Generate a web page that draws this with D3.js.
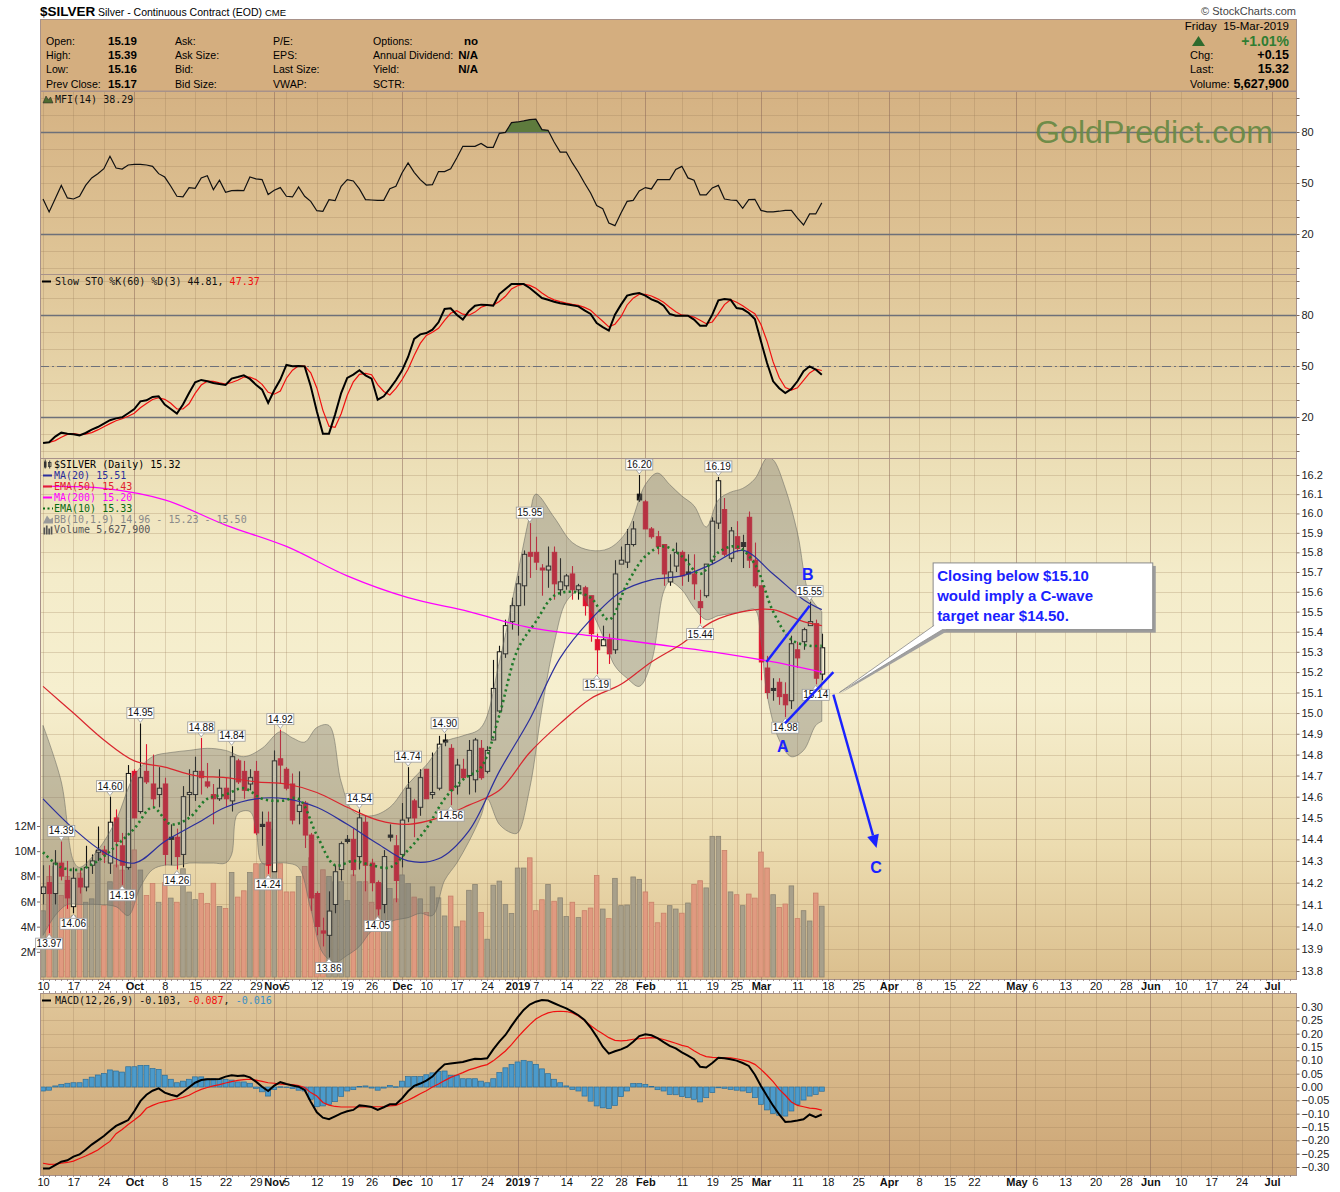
<!DOCTYPE html>
<html>
<head>
<meta charset="utf-8">
<title>$SILVER daily</title>
<script src="https://cdn.jsdelivr.net/npm/d3@7"></script>
<style>
  body { margin: 0; background: #fff; }
  text { font-family: "Liberation Sans", Arial, sans-serif; }
  .mono { font-family: "DejaVu Sans Mono", monospace; font-size: 10px; }
</style>
</head>
<body>
<svg id="chart" width="1340" height="1192"></svg>
<script>
// ---------- data ----------
const firstDay = "2018-09-10";
const holidays = ["2018-11-22","2018-12-05","2018-12-25","2019-01-01","2019-01-21",
                  "2019-02-18","2019-04-19","2019-05-27","2019-07-04"];

const opens = [14.15,14.20,14.15,14.29,14.21,14.09,14.22,14.18,14.28,14.34,
14.35,14.29,14.50,14.37,14.27,14.72,14.53,14.72,14.66,14.61,
14.66,14.41,14.41,14.33,14.61,14.61,14.72,14.67,14.61,14.59,
14.64,14.58,14.77,14.72,14.66,14.72,14.47,14.48,14.25,14.78,
14.73,14.66,14.53,14.57,14.42,14.15,13.98,13.96,14.10,14.26,
14.40,14.40,14.32,14.48,14.29,14.20,14.10,14.42,14.37,14.33,
14.50,14.58,14.55,14.73,14.61,14.64,14.87,14.83,14.65,14.73,
14.70,14.68,14.83,14.72,14.87,15.01,15.29,15.45,15.53,15.63,
15.80,15.80,15.72,15.71,15.80,15.61,15.63,15.69,15.61,15.62,
15.58,15.36,15.33,15.36,15.31,15.74,15.75,15.84,16.10,16.06,
15.92,15.88,15.84,15.65,15.73,15.80,15.70,15.69,15.55,15.58,
15.76,15.95,16.02,15.77,15.88,15.85,15.98,15.76,15.63,15.22,
15.12,15.15,15.09,15.06,15.31,15.35,15.43,15.44,15.19];
const highs = [14.28,14.28,14.35,14.39,14.30,14.27,14.26,14.37,14.33,14.46,
14.37,14.60,14.54,14.43,14.75,14.73,14.95,14.85,14.80,14.74,
14.69,14.47,14.45,14.65,14.73,14.79,14.88,14.76,14.66,14.73,
14.69,14.84,14.78,14.77,14.73,14.77,14.53,14.53,14.82,14.92,
14.74,14.71,14.72,14.58,14.43,14.16,14.04,14.16,14.28,14.39,
14.42,14.45,14.54,14.51,14.31,14.21,14.35,14.47,14.42,14.57,
14.74,14.59,14.73,14.73,14.81,14.89,14.90,14.85,14.78,14.78,
14.87,14.88,14.87,14.84,15.26,15.33,15.46,15.57,15.68,15.81,
15.95,15.88,15.74,15.83,15.83,15.77,15.69,15.73,15.64,15.63,
15.58,15.39,15.43,15.39,15.76,15.83,15.92,15.96,16.20,16.07,
15.93,15.91,15.84,15.79,15.85,15.81,15.79,15.79,15.61,15.74,
15.98,16.19,16.08,15.93,15.96,15.89,16.01,15.85,15.63,15.28,
15.17,15.17,15.15,15.38,15.35,15.42,15.55,15.46,15.39];
const lows = [14.10,13.97,14.10,14.21,14.08,14.06,14.15,14.16,14.24,14.30,
14.29,14.24,14.27,14.19,14.26,14.50,14.52,14.66,14.55,14.55,
14.28,14.28,14.26,14.27,14.51,14.58,14.61,14.64,14.47,14.58,
14.55,14.53,14.66,14.59,14.63,14.42,14.37,14.24,14.25,14.66,
14.63,14.47,14.47,14.36,14.07,13.96,13.91,13.86,14.06,14.21,
14.38,14.23,14.26,14.16,14.16,14.05,14.06,14.39,14.11,14.27,
14.48,14.41,14.51,14.59,14.59,14.63,14.84,14.56,14.61,14.68,
14.61,14.62,14.68,14.71,14.87,15.00,15.27,15.41,15.38,15.53,
15.67,15.71,15.58,15.62,15.56,15.58,15.61,15.56,15.56,15.48,
15.35,15.19,15.33,15.24,15.29,15.74,15.72,15.83,16.06,15.92,
15.87,15.79,15.63,15.63,15.70,15.63,15.65,15.56,15.44,15.57,
15.74,15.92,15.78,15.75,15.80,15.72,15.72,15.62,15.16,15.07,
15.06,15.04,14.98,15.02,15.22,15.31,15.43,15.14,15.16];
const closes = [14.18,14.15,14.29,14.23,14.13,14.22,14.18,14.27,14.30,14.35,
14.33,14.48,14.39,14.28,14.71,14.50,14.69,14.67,14.59,14.64,
14.33,14.40,14.32,14.60,14.62,14.72,14.69,14.65,14.59,14.64,
14.59,14.79,14.67,14.63,14.69,14.43,14.46,14.28,14.77,14.75,
14.64,14.49,14.56,14.42,14.13,14.00,13.97,14.07,14.25,14.38,
14.39,14.26,14.50,14.28,14.20,14.08,14.32,14.41,14.21,14.49,
14.64,14.50,14.69,14.59,14.62,14.85,14.86,14.63,14.75,14.69,
14.82,14.87,14.69,14.82,15.12,15.30,15.43,15.53,15.64,15.79,
15.78,15.75,15.71,15.73,15.64,15.65,15.68,15.61,15.63,15.53,
15.39,15.31,15.36,15.29,15.69,15.76,15.84,15.92,16.07,15.92,
15.88,15.83,15.69,15.70,15.80,15.68,15.69,15.64,15.52,15.74,
15.96,16.17,15.79,15.91,15.82,15.83,15.76,15.63,15.25,15.10,
15.11,15.08,15.04,15.34,15.27,15.41,15.45,15.17,15.32];
// volume, millions of contracts
const volumes = [5.26,7.98,8.79,6.48,7.98,4.85,8.25,5.94,6.21,10.0,
5.67,7.57,8.9,8.5,11.4,10.1,8.5,6.48,7.43,5.94,
7.5,6.27,5.94,8.6,6.75,6.15,6.65,5.85,7.45,5.6,
5.45,8.30,6.35,6.85,8.30,9.0,9.0,9.05,11.75,9.0,
6.76,6.76,7.98,8.79,9.47,6.48,8.52,7.98,7.57,7.57,
6.08,8.11,7.57,7.57,5.94,7.43,7.43,7.03,6.21,8.11,
7.43,6.35,6.21,5.13,7.16,6.29,4.85,6.43,3.98,4.45,
6.89,7.35,5.13,3.0,7.3,7.62,5.75,5.05,8.66,8.66,
9.47,5.27,6.14,7.35,6.02,6.29,4.8,5.94,4.72,5.27,
5.48,8.06,5.40,4.64,7.84,5.67,5.72,7.95,7.76,6.76,
5.94,4.31,5.07,5.67,5.40,5.07,5.88,7.35,7.65,7.08,
11.18,11.18,10.05,6.76,6.54,5.67,6.59,6.27,9.93,8.66,
6.54,5.53,5.80,7.24,4.64,5.27,4.45,6.67,5.628];

// overlays, read at the bar index listed beside them
const ma200Idx = [0,10,20,30,40,50,60,70,80,90,100,110,120,128];
const ma200 = [16.14,16.13,16.07,15.94,15.83,15.68,15.57,15.50,15.42,15.38,15.34,15.30,15.25,15.20];
const ma5Idx = [0,5,10,15,20,25,30,35,40,45,50,55,60,65,70,75,80,85,90,95,100,105,110,115,120,125,128];
const ema50 = [15.13,15.00,14.87,14.77,14.74,14.70,14.69,14.67,14.66,14.62,14.55,14.49,14.47,14.50,
  14.56,14.63,14.81,14.95,15.07,15.14,15.25,15.34,15.45,15.50,15.51,15.45,15.43];
const ma20 = [14.59,14.45,14.34,14.29,14.39,14.47,14.55,14.59,14.59,14.55,14.47,14.38,14.30,14.31,
  14.44,14.72,14.97,15.27,15.46,15.60,15.66,15.68,15.74,15.81,15.69,15.56,15.51];
const ema10Idx = [0,3,6,9,12,15,18,21,24,27,30,33,36,39,42,45,48,51,54,57,60,63,66,69,72,75,
  78,81,84,87,90,93,96,99,102,105,108,111,114,117,120,123,126,128];
const ema10 = [14.34,14.27,14.26,14.30,14.37,14.45,14.55,14.47,14.50,14.59,14.61,14.64,14.59,14.58,
  14.59,14.42,14.28,14.30,14.28,14.27,14.35,14.45,14.59,14.68,14.74,14.99,15.31,15.45,15.58,15.60,
  15.57,15.46,15.64,15.78,15.83,15.78,15.69,15.80,15.83,15.74,15.50,15.36,15.33,15.33];
const bbUpperIdx = [0,3,5,6,9,12,15,18,21,24,27,30,33,36,39,41,43,45,47,49,51,54,57,60,63,66,69,
  72,75,78,80,81,84,87,90,93,96,99,101,103,105,107,109,111,113,115,117,119,120,122,124,126,128];
const bbUpper = [14.94,14.67,14.30,14.27,14.35,14.49,14.70,14.79,14.81,14.82,14.83,14.82,14.79,14.83,
  14.91,14.88,14.86,14.93,14.94,14.67,14.53,14.51,14.55,14.66,14.75,14.86,14.89,14.93,15.25,15.69,
  15.99,16.10,15.98,15.85,15.81,15.82,15.91,16.15,16.21,16.15,16.09,16.04,15.93,16.07,16.11,16.13,
  16.18,16.29,16.28,16.13,15.90,15.58,15.50];
const bbLowerIdx = [0,2,4,6,9,12,14,16,18,20,22,24,26,28,30,31,32,34,35,36,38,40,42,44,46,48,50,52,54,56,
  58,60,62,64,66,68,70,72,73,75,77,78,80,82,84,86,88,90,92,94,96,98,100,102,103,105,107,109,111,
  113,115,117,118,119,121,123,125,127,128];
const bbLower = [13.96,14.05,14.10,14.10,14.10,14.09,14.05,14.18,14.26,14.28,14.28,14.29,14.29,14.29,
  14.29,14.33,14.52,14.53,14.45,14.29,14.29,14.29,14.27,14.08,13.88,13.84,13.87,13.91,13.98,14.01,
  14.03,14.04,14.06,14.05,14.21,14.29,14.39,14.51,14.59,14.47,14.43,14.43,14.64,15.02,15.34,15.55,
  15.60,15.51,15.38,15.23,15.17,15.13,15.25,15.60,15.65,15.61,15.52,15.46,15.48,15.49,15.50,15.51,
  15.36,15.09,14.87,14.79,14.82,14.94,14.96];

const mfi = [40.6,33.0,40.8,48.6,41.2,40.6,42.2,48.6,53.0,55.5,
58.4,65.7,58.8,58.2,60.6,61.0,61.0,60.6,59.8,55.5,
53.5,48.1,42.2,41.8,47.3,46.9,53.0,54.3,46.1,51.6,
44.5,45.5,45.7,45.5,53.5,52.4,52.0,43.2,45.7,47.3,
42.2,41.8,47.7,42.2,39.2,33.7,33.3,40.2,39.6,48.1,
52.0,51.2,46.5,40.2,40.0,39.8,39.8,46.7,48.1,55.9,
61.8,56.3,52.0,48.8,49.0,56.7,56.7,58.4,64.7,71.6,
71.6,71.6,73.3,71.0,71.0,79.2,79.8,85.5,85.9,86.5,
87.3,87.6,81.4,81.0,74.1,68.2,68.2,61.8,56.3,50.0,
44.1,36.7,34.9,26.5,24.9,32.4,39.2,39.8,45.3,47.3,
46.5,52.0,52.0,52.0,58.0,59.8,53.0,51.6,43.0,43.0,
47.1,48.6,40.6,40.0,39.8,35.1,40.2,40.4,33.9,33.0,
33.0,33.4,33.9,33.9,29.4,25.3,31.8,31.8,38.29];
const stoK = [4.7,5.1,8.5,10.8,10.2,9.8,9.2,10.6,12.6,14.1,
16.1,18.1,19.2,19.8,22.2,24.7,29.2,29.8,31.8,32.2,
27.3,24.7,22.0,27.3,34.1,40.4,41.8,41.0,40.0,39.4,
38.8,42.6,43.5,44.5,42.4,39.0,36.1,28.3,35.7,42.0,
50.6,49.8,50.0,49.8,38.1,23.4,10.2,10.2,21.4,34.1,
43.0,44.9,47.5,44.5,42.6,30.2,32.2,36.7,41.6,47.3,
55.3,65.9,68.6,69.4,71.4,75.7,83.5,83.9,80.2,77.3,
82.2,85.5,86.1,85.9,85.5,92.3,95.3,98.2,98.2,98.2,
95.9,92.9,90.0,89.0,87.8,86.9,86.3,85.7,85.1,82.7,
80.6,75.3,72.9,70.8,80.2,86.1,91.4,92.3,92.9,91.4,
89.2,87.8,85.5,80.6,79.6,79.6,79.6,77.3,73.7,73.7,
80.2,88.6,89.4,89.0,84.1,83.5,81.2,77.6,64.5,51.8,
41.0,36.9,34.1,36.5,41.0,46.9,49.8,47.9,44.81];
const stoD = [5.0,5.0,6.1,8.1,9.8,10.3,9.7,9.9,10.8,12.4,
14.3,16.1,17.8,19.0,20.4,22.2,25.4,27.9,30.3,31.3,
30.4,28.1,24.7,24.7,27.8,33.9,38.8,41.1,40.9,40.1,
39.4,40.3,41.6,43.5,43.5,42.0,39.2,34.5,33.4,35.3,
42.8,47.5,50.1,49.9,46.0,37.1,23.9,14.6,13.9,21.9,
32.8,40.7,45.1,45.6,44.9,39.1,35.0,33.0,36.8,41.9,
48.1,56.2,63.3,68.0,69.8,72.2,76.9,81.0,82.5,80.5,
79.9,81.7,84.6,85.8,85.8,87.9,91.0,95.3,97.2,98.2,
97.4,95.7,92.9,90.6,88.9,87.9,87.0,86.3,85.7,84.5,
82.8,79.5,76.3,73.0,74.6,79.0,85.9,89.9,92.2,92.2,
91.2,89.5,87.5,84.6,81.9,79.9,79.6,78.8,76.9,74.9,
75.9,80.8,86.1,89.0,87.5,85.5,82.9,80.8,74.4,64.6,
52.4,43.2,37.3,35.8,37.2,41.5,45.9,48.2,47.37];
const macd = [-0.306,-0.306,-0.293,-0.280,-0.275,-0.261,-0.253,-0.235,-0.216,-0.200,
-0.184,-0.164,-0.146,-0.135,-0.124,-0.091,-0.053,-0.029,-0.014,-0.005,
-0.021,-0.029,-0.035,-0.019,-0.001,0.016,0.026,0.029,0.029,0.030,
0.039,0.044,0.041,0.043,0.036,0.020,0.001,-0.015,0.005,0.018,
0.011,0.006,0.001,-0.011,-0.055,-0.095,-0.115,-0.121,-0.110,-0.099,
-0.091,-0.086,-0.069,-0.071,-0.075,-0.086,-0.076,-0.065,-0.065,-0.043,
-0.016,0.004,0.013,0.024,0.039,0.064,0.085,0.088,0.091,0.094,
0.100,0.106,0.105,0.108,0.141,0.170,0.195,0.229,0.261,0.289,
0.309,0.320,0.326,0.324,0.314,0.304,0.295,0.283,0.269,0.251,
0.223,0.189,0.151,0.125,0.134,0.141,0.151,0.170,0.191,0.198,
0.194,0.183,0.168,0.154,0.145,0.130,0.118,0.104,0.076,0.073,
0.090,0.110,0.108,0.104,0.099,0.090,0.079,0.046,0.004,-0.034,
-0.070,-0.103,-0.131,-0.129,-0.126,-0.121,-0.103,-0.113,-0.103];
const macdSignal = [-0.286,-0.290,-0.289,-0.286,-0.283,-0.278,-0.268,-0.259,-0.248,-0.236,
-0.219,-0.204,-0.175,-0.159,-0.141,-0.124,-0.106,-0.080,-0.069,-0.060,
-0.055,-0.050,-0.045,-0.039,-0.031,-0.019,-0.009,-0.002,0.004,0.009,
0.015,0.020,0.025,0.028,0.029,0.026,0.021,0.016,0.014,0.011,
0.010,0.009,0.005,-0.002,-0.021,-0.034,-0.058,-0.068,-0.073,-0.075,
-0.075,-0.075,-0.075,-0.075,-0.074,-0.074,-0.074,-0.071,-0.069,-0.060,
-0.050,-0.038,-0.025,-0.014,0.000,0.011,0.024,0.036,0.045,0.054,
0.064,0.071,0.078,0.084,0.098,0.116,0.135,0.159,0.186,0.211,
0.234,0.255,0.268,0.278,0.283,0.284,0.283,0.278,0.266,0.249,
0.231,0.214,0.200,0.185,0.175,0.173,0.175,0.179,0.181,0.183,
0.185,0.183,0.178,0.171,0.164,0.156,0.151,0.136,0.123,0.114,
0.111,0.110,0.109,0.109,0.106,0.101,0.095,0.085,0.066,0.044,
0.020,-0.009,-0.031,-0.056,-0.069,-0.074,-0.079,-0.081,-0.087];
const macdHist = [-0.015,-0.012,0.004,0.010,0.014,0.016,0.016,0.029,0.037,0.045,
0.051,0.064,0.060,0.056,0.076,0.076,0.081,0.081,0.069,0.066,
0.044,0.029,0.016,0.022,0.029,0.038,0.038,0.031,0.031,0.029,
0.029,0.026,0.019,0.019,0.014,-0.005,-0.018,-0.034,-0.009,0.001,
0.000,-0.006,-0.012,-0.015,-0.046,-0.074,-0.071,-0.065,-0.055,-0.035,
-0.015,-0.010,0.002,0.004,-0.004,-0.012,-0.004,0.006,0.001,0.022,
0.039,0.039,0.039,0.046,0.053,0.058,0.060,0.044,0.044,0.031,
0.031,0.031,0.022,0.016,0.031,0.054,0.072,0.085,0.094,0.100,
0.095,0.085,0.068,0.050,0.029,0.016,0.004,-0.009,-0.015,-0.034,
-0.053,-0.071,-0.078,-0.081,-0.069,-0.036,-0.015,0.013,0.013,0.010,
0.002,-0.010,-0.015,-0.028,-0.029,-0.036,-0.040,-0.046,-0.056,-0.040,
-0.021,-0.003,-0.005,-0.009,-0.012,-0.015,-0.021,-0.040,-0.065,-0.086,
-0.099,-0.106,-0.109,-0.090,-0.065,-0.049,-0.034,-0.028,-0.016];

// labelled swing highs / lows (bar index)
const highLabelIdx = [3,11,16,26,31,39,52,60,66,80,98,111,126];
const lowLabelIdx = [1,5,13,22,37,47,55,67,91,108,122,127];

// hand-drawn Elliott-wave notes, in (bar index, price)
const waveLines = [[[118.9,15.25],[126.0,15.53]], [[121.95,14.95],[129.9,15.20]]];
const waveArrow = [[129.9,15.09],[137.0,14.36]];
const waveLabels = [["A",121.6,14.84],["B",125.7,15.69],["C",136.9,14.27]];
const noteLines = ["Closing below $15.10","would imply a C-wave","target near $14.50."];
const noteTip = [130.9,15.10];
const noteBox = [146.3,182.4,15.746,15.41];

// ---------- layout ----------
const L = 40, R = 1296, dayW = 6.084;
const svg = d3.select("#chart");
const defs = svg.append("defs");

const fmtDay = d3.utcFormat("%Y-%m-%d");
const days = [];
for (let d = d3.utcParse("%Y-%m-%d")(firstDay); days.length < 210; d = d3.utcDay.offset(d, 1)) {
  const w = d.getUTCDay();
  if (w === 0 || w === 6 || holidays.includes(fmtDay(d))) continue;
  days.push(d);
}
const lastSlot = (R - L) / dayW - 0.5;
const x = d3.scaleLinear().domain([-0.5, lastSlot]).range([L, R]);

// weekly and monthly date ticks; a week label too close to a month label is dropped
let ticks = [];
days.forEach((d, i) => {
  if (i > lastSlot) return;
  const p = days[i - 1];
  if (p && d.getUTCMonth() !== p.getUTCMonth())
    ticks.push({i, major: true, label: d.getUTCMonth() === 0 ? d3.utcFormat("%Y")(d) : d3.utcFormat("%b")(d)});
  else if (!p || d.getUTCDay() < p.getUTCDay())
    ticks.push({i, major: false, label: String(d.getUTCDate())});
});
ticks = ticks.filter(t => t.major || !ticks.some(m => m.major &&
  ((t.i < m.i && m.i - t.i <= 2) || (t.i > m.i && t.i - m.i <= 1))));
const tickLabel = new Map(ticks.map(t => [t.i, t]));

const yP = d3.scaleLog().domain([13.8, 16.2]).range([971, 475]);
const yV = d3.scaleLinear().domain([0, 12]).range([977, 826]);
const yMfi = d3.scaleLinear().domain([20, 80]).range([234, 132]);
const ySto = d3.scaleLinear().domain([20, 80]).range([417, 315]);
const yM = d3.scaleLinear().domain([-0.30, 0.30]).range([1167, 1007]);

const panels = {mfi: [91, 274], sto: [274, 458], price: [458, 979], macd: [993, 1175]};
Object.entries(panels).forEach(([k, [a, b]]) => {
  defs.append("clipPath").attr("id", "c" + k).append("rect")
    .attr("x", L).attr("y", a).attr("width", R - L).attr("height", b - a);
});

function grad(id, y1, y2, stops) {
  const g = defs.append("linearGradient").attr("id", id).attr("gradientUnits", "userSpaceOnUse")
    .attr("x1", 0).attr("x2", 0).attr("y1", y1).attr("y2", y2);
  stops.forEach(([o, c]) => g.append("stop").attr("offset", o).attr("stop-color", c));
}
grad("bgMain", 91, 979, [[0, "#d5b283"], [0.2, "#dfc597"], [0.4, "#ebddb4"], [0.55, "#f4ecca"],
  [0.68, "#f6efcf"], [0.85, "#ecdcb0"], [1, "#dbbf8e"]]);
grad("bgMacd", 993, 1175, [[0, "#e0c699"], [1, "#cca575"]]);

const border = "#a8928a";
const gridC = "rgba(150,118,85,0.26)";
const monthC = "rgba(135,100,85,0.5)";

// ---------- header ----------
svg.append("text").attr("x", L).attr("y", 16).attr("font-size", 13.5).attr("font-weight", "bold").text("$SILVER");
const sub = svg.append("text").attr("x", 98).attr("y", 16).attr("font-size", 10.5).attr("xml:space", "preserve");
sub.append("tspan").text("Silver - Continuous Contract (EOD) ");
sub.append("tspan").attr("font-size", 9.5).text("CME");
svg.append("text").attr("x", R).attr("y", 15).attr("font-size", 11).attr("fill", "#444")
  .attr("text-anchor", "end").text("\u00A9 StockCharts.com");

svg.append("rect").attr("x", L + 0.5).attr("y", 19.5).attr("width", R - L).attr("height", 71.5)
  .attr("fill", "#d4ae7f").attr("stroke", border);
const rowsY = [45, 59, 73, 88];
const hdrCols = [
  {x: 46, labels: ["Open:", "High:", "Low:", "Prev Close:"], vx: 108, vals: ["15.19", "15.39", "15.16", "15.17"]},
  {x: 175, labels: ["Ask:", "Ask Size:", "Bid:", "Bid Size:"]},
  {x: 273, labels: ["P/E:", "EPS:", "Last Size:", "VWAP:"]},
  {x: 373, labels: ["Options:", "Annual Dividend:", "Yield:", "SCTR:"], vx: 478, anchor: "end", vals: ["no", "N/A", "N/A", ""]}
];
hdrCols.forEach(c => {
  c.labels.forEach((t, k) => svg.append("text").attr("x", c.x).attr("y", rowsY[k]).attr("font-size", 10.6).text(t));
  (c.vals || []).forEach((t, k) => svg.append("text").attr("x", c.vx).attr("y", rowsY[k])
    .attr("text-anchor", c.anchor || "start").attr("font-size", 11.5).attr("font-weight", "bold").text(t));
});
svg.append("text").attr("x", 1289).attr("y", 30).attr("text-anchor", "end").attr("font-size", 11.5)
  .attr("xml:space", "preserve").text("Friday  15-Mar-2019");
svg.append("path").attr("d", "M1192,46 L1198.5,36 L1205,46 Z").attr("fill", "#2e6b2e");
svg.append("text").attr("x", 1289).attr("y", 46).attr("text-anchor", "end").attr("font-size", 14)
  .attr("font-weight", "bold").attr("fill", "#2f7d32").text("+1.01%");
[["Chg:", "+0.15"], ["Last:", "15.32"], ["Volume:", "5,627,900"]].forEach(([a, b], k) => {
  svg.append("text").attr("x", 1190).attr("y", rowsY[k + 1]).attr("font-size", 11).text(a);
  svg.append("text").attr("x", 1289).attr("y", rowsY[k + 1]).attr("text-anchor", "end")
    .attr("font-size", 12.5).attr("font-weight", "bold").text(b);
});

// ---------- backgrounds and grids ----------
svg.append("rect").attr("x", L).attr("y", 91).attr("width", R - L).attr("height", 979 - 91).attr("fill", "url(#bgMain)");
svg.append("rect").attr("x", L).attr("y", 993).attr("width", R - L).attr("height", 1175 - 993).attr("fill", "url(#bgMacd)");

function hgrid(vals, scale, a, b) {
  svg.append("g").selectAll("line").data(vals.filter(v => scale(v) > a + 1 && scale(v) < b - 1)).join("line")
    .attr("x1", L).attr("x2", R).attr("y1", v => Math.round(scale(v)) + 0.5).attr("y2", v => Math.round(scale(v)) + 0.5)
    .attr("stroke", gridC);
}
function vgrid(a, b) {
  svg.append("g").selectAll("line").data(ticks).join("line")
    .attr("x1", t => Math.round(x(t.i)) + 0.5).attr("x2", t => Math.round(x(t.i)) + 0.5)
    .attr("y1", a).attr("y2", b).attr("stroke", t => t.major ? monthC : gridC);
}
const tens = d3.range(0, 101, 10);
const priceTicks = d3.range(138, 163).map(k => k / 10);
const macdTicks = d3.range(-6, 7).map(k => k * 0.05);
hgrid(tens, yMfi, 91, 274);
hgrid(tens, ySto, 274, 458);
hgrid(priceTicks, yP, 458, 979);
hgrid(macdTicks, yM, 993, 1175);
vgrid(91, 979);
vgrid(993, 1175);

// reference levels
[[yMfi, 80], [yMfi, 20], [ySto, 80], [ySto, 20]].forEach(([s, v]) =>
  svg.append("line").attr("x1", L).attr("x2", R).attr("y1", Math.round(s(v)) + 0.5).attr("y2", Math.round(s(v)) + 0.5)
    .attr("stroke", "#6d7079").attr("stroke-width", 1.3));
svg.append("line").attr("x1", L).attr("x2", R).attr("y1", Math.round(ySto(50)) + 0.5).attr("y2", Math.round(ySto(50)) + 0.5)
  .attr("stroke", "#6d7079").attr("stroke-width", 1.1).attr("stroke-dasharray", "9,3,2,3");

// ---------- MFI ----------
const gMfi = svg.append("g").attr("clip-path", "url(#cmfi)");
defs.append("clipPath").attr("id", "above80").append("rect")
  .attr("x", L).attr("y", 91).attr("width", R - L).attr("height", yMfi(80) - 91);
gMfi.append("path").datum(mfi).attr("clip-path", "url(#above80)")
  .attr("d", d3.area().x((d, i) => x(i)).y0(yMfi(80)).y1(d => yMfi(d))).attr("fill", "#5e7b3d");
gMfi.append("path").datum(mfi).attr("d", d3.line().x((d, i) => x(i)).y(d => yMfi(d)))
  .attr("fill", "none").attr("stroke", "#111").attr("stroke-width", 1.2);

// ---------- Slow stochastic ----------
const gSto = svg.append("g").attr("clip-path", "url(#csto)");
gSto.append("path").datum(stoD).attr("d", d3.line().x((d, i) => x(i)).y(d => ySto(d)))
  .attr("fill", "none").attr("stroke", "#f01010").attr("stroke-width", 1.2);
gSto.append("path").datum(stoK).attr("d", d3.line().x((d, i) => x(i)).y(d => ySto(d)))
  .attr("fill", "none").attr("stroke", "#000").attr("stroke-width", 2);

// ---------- price panel ----------
const gP = svg.append("g").attr("clip-path", "url(#cprice)");
const bars = closes.map((c, i) => ({
  i, o: opens[i], h: highs[i], l: lows[i], c, v: volumes[i],
  up: i === 0 ? true : c >= closes[i - 1]
}));
// volume
gP.append("g").selectAll("rect").data(bars).join("rect")
  .attr("x", d => x(d.i) - 2.3).attr("width", 4.6)
  .attr("y", d => yV(d.v)).attr("height", d => yV(0) - yV(d.v))
  .attr("fill", d => d.up ? "#a8a08b" : "#e09a80")
  .attr("stroke", d => d.up ? "#8c8472" : "#c98169").attr("stroke-width", 0.8);
// candles
const cg = gP.append("g").selectAll("g").data(bars).join("g");
cg.append("line")
  .attr("x1", d => Math.round(x(d.i)) + 0.5).attr("x2", d => Math.round(x(d.i)) + 0.5)
  .attr("y1", d => yP(d.h)).attr("y2", d => yP(d.l))
  .attr("stroke", d => d.up ? "#111" : "#e0112e").attr("stroke-width", 1.1);
cg.append("rect")
  .attr("x", d => Math.round(x(d.i)) - 1.7).attr("width", 4.4)
  .attr("y", d => yP(Math.max(d.o, d.c)))
  .attr("height", d => Math.max(1.2, Math.abs(yP(d.o) - yP(d.c))))
  .attr("fill", d => d.c >= d.o ? "#f7f0d4" : (d.up ? "#111" : "#e0112e"))
  .attr("stroke", d => d.up ? "#111" : "#e0112e").attr("stroke-width", 1);

// Bollinger band overlay
const bbLine = d3.line().curve(d3.curveCatmullRom.alpha(0.5));
const upPts = bbUpperIdx.map((k, j) => [x(k), yP(bbUpper[j])]);
const loPts = bbLowerIdx.map((k, j) => [x(k), yP(bbLower[j])]).reverse();
gP.append("path").attr("d", bbLine(upPts) + "L" + bbLine(loPts).slice(1) + "Z")
  .attr("fill", "rgba(112,112,104,0.36)").attr("stroke", "rgba(105,105,98,0.55)").attr("stroke-width", 1);

// moving averages
function avgLine(idx, vals, color, w, dash) {
  gP.append("path").datum(idx.map((k, j) => [x(k), yP(vals[j])]))
    .attr("d", d3.line().curve(d3.curveCatmullRom.alpha(0.5)))
    .attr("fill", "none").attr("stroke", color).attr("stroke-width", w)
    .attr("stroke-dasharray", dash || null);
}
avgLine(ma200Idx, ma200, "#ff00ff", 1.3);
avgLine(ma5Idx, ema50, "#d9262f", 1.2);
avgLine(ma5Idx, ma20, "#2b2f9c", 1.2);
avgLine(ema10Idx, ema10, "#1f7a2a", 2.6, "2.2,3.2");

// swing labels
function swingLabel(i, v, isHigh) {
  const cx = x(i), py = yP(v), w = 27, h = 11;
  const by = isHigh ? py - 5 - h : py + 5;
  const g = svg.append("g");
  g.append("path").attr("d", isHigh
      ? `M${cx - 3.5},${py - 5.5} L${cx + 3.5},${py - 5.5} L${cx},${py - 1} Z`
      : `M${cx - 3.5},${py + 5.5} L${cx + 3.5},${py + 5.5} L${cx},${py + 1} Z`)
    .attr("fill", "#fff").attr("stroke", "#9a9a9a").attr("stroke-width", 0.8);
  g.append("rect").attr("x", cx - w / 2).attr("y", by).attr("width", w).attr("height", h)
    .attr("fill", "#fff").attr("stroke", "#9a9a9a").attr("stroke-width", 0.8);
  g.append("text").attr("x", cx).attr("y", by + 9).attr("text-anchor", "middle")
    .attr("font-size", 10).attr("fill", "#111").text(v.toFixed(2));
}

// ---------- MACD ----------
const gM = svg.append("g").attr("clip-path", "url(#cmacd)");
gM.append("g").selectAll("rect").data(macdHist).join("rect")
  .attr("x", (d, i) => x(i) - 2.5).attr("width", 5)
  .attr("y", d => Math.min(yM(d), yM(0))).attr("height", d => Math.max(0.6, Math.abs(yM(d) - yM(0))))
  .attr("fill", "#4b9acb").attr("stroke", "#2d6e98").attr("stroke-width", 0.7);
gM.append("path").datum(macdSignal).attr("d", d3.line().x((d, i) => x(i)).y(d => yM(d)))
  .attr("fill", "none").attr("stroke", "#f01010").attr("stroke-width", 1.2);
gM.append("path").datum(macd).attr("d", d3.line().x((d, i) => x(i)).y(d => yM(d)))
  .attr("fill", "none").attr("stroke", "#000").attr("stroke-width", 2);

// ---------- panel borders and axes ----------
[[19, 979], [993, 1175]].forEach(([a, b]) =>
  svg.append("rect").attr("x", L + 0.5).attr("y", a + 0.5).attr("width", R - L).attr("height", b - a)
    .attr("fill", "none").attr("stroke", border));
[91, 274, 458].forEach(yy => svg.append("line").attr("x1", L).attr("x2", R)
  .attr("y1", yy + 0.5).attr("y2", yy + 0.5).attr("stroke", border));

function styleAxis(g, showDomain) {
  g.attr("font-family", "Liberation Sans, Arial, sans-serif").attr("font-size", 11);
  g.select(".domain").attr("stroke", showDomain ? border : "none");
  g.selectAll(".tick line").attr("stroke", "#7a6a60");
  g.selectAll(".tick text").attr("fill", "#222");
  return g;
}
function rightAxis(scale, vals, labelled, fmt) {
  styleAxis(svg.append("g").attr("transform", `translate(${R + 0.5},0)`)
    .call(d3.axisRight(scale).tickValues(vals).tickSize(3).tickPadding(2)
      .tickFormat(v => labelled.some(l => Math.abs(l - v) < 1e-9) ? fmt(v) : "")), false);
}
const within = (s, a, b) => v => s(v) > a + 2 && s(v) < b - 2;
rightAxis(yMfi, tens.filter(within(yMfi, 91, 274)), [20, 50, 80], d3.format("d"));
rightAxis(ySto, tens.filter(within(ySto, 274, 458)), [20, 50, 80], d3.format("d"));
rightAxis(yP, priceTicks, priceTicks, d3.format(".1f"));
rightAxis(yM, macdTicks, macdTicks, d3.format(".2f"));

styleAxis(svg.append("g").attr("transform", `translate(${L},0)`)
  .call(d3.axisLeft(yV).tickValues([2, 4, 6, 8, 10, 12]).tickSize(3).tickPadding(1).tickFormat(d => d + "M")), false);

function dateAxis(y0) {
  const g = styleAxis(svg.append("g").attr("transform", `translate(0,${y0})`)
    .call(d3.axisBottom(x).tickValues(ticks.map(t => t.i)).tickSize(0).tickPadding(3)
      .tickFormat(i => tickLabel.get(i).label)), false);
  g.selectAll(".tick text").attr("font-weight", i => tickLabel.get(i).major ? "bold" : null)
    .attr("fill", "#111");
}
dateAxis(979);
dateAxis(1175);

// daily ticks along the date edges
[[979, 2], [993, -2], [1175, 2]].forEach(([yy, len]) =>
  svg.append("g").selectAll("line").data(d3.range(0, Math.floor(lastSlot) + 1)).join("line")
    .attr("x1", i => Math.round(x(i)) + 0.5).attr("x2", i => Math.round(x(i)) + 0.5)
    .attr("y1", yy).attr("y2", yy + len).attr("stroke", "#8d7a70").attr("stroke-width", 0.8));

// swing labels drawn above the axes
highLabelIdx.forEach(i => swingLabel(i, highs[i], true));
lowLabelIdx.forEach(i => swingLabel(i, lows[i], false));

// ---------- legends ----------
const leg = [
  ["$SILVER (Daily) 15.32", "#000", "candle"],
  ["MA(20) 15.51", "#2b2f9c", "dash"],
  ["EMA(50) 15.43", "#e0202e", "dash"],
  ["MA(200) 15.20", "#ff00ff", "dash"],
  ["EMA(10) 15.33", "#0a6a12", "dots"],
  ["BB(10,1.9) 14.96 - 15.23 - 15.50", "#8a8a8a", "area"],
  ["Volume 5,627,900", "#555", "bars"]
];
const legY = [468, 479, 490, 501, 512, 523, 533];
leg.forEach(([t, c, icon], k) => {
  const yy = legY[k];
  svg.append("text").attr("class", "mono").attr("x", 54).attr("y", yy).attr("fill", c).text(t);
  const cy = yy - 3.5;
  if (icon === "dash") svg.append("line").attr("x1", 43).attr("x2", 52).attr("y1", cy).attr("y2", cy).attr("stroke", c).attr("stroke-width", 2);
  if (icon === "dots") svg.append("line").attr("x1", 43).attr("x2", 53).attr("y1", cy).attr("y2", cy).attr("stroke", c).attr("stroke-width", 2).attr("stroke-dasharray", "2,2.5");
  if (icon === "candle") {
    svg.append("rect").attr("x", 44).attr("y", cy - 3).attr("width", 2.5).attr("height", 6).attr("fill", "#333");
    svg.append("rect").attr("x", 48.5).attr("y", cy - 2).attr("width", 2.5).attr("height", 4).attr("fill", "none").attr("stroke", "#333").attr("stroke-width", 0.8);
    svg.append("line").attr("x1", 45.2).attr("x2", 45.2).attr("y1", cy - 5).attr("y2", cy + 4).attr("stroke", "#333");
    svg.append("line").attr("x1", 49.7).attr("x2", 49.7).attr("y1", cy - 4).attr("y2", cy + 4).attr("stroke", "#333");
  }
  if (icon === "area") svg.append("path").attr("d", `M43,${cy + 4} L47,${cy - 4} L50,${cy} L53,${cy - 2} L53,${cy + 4} Z`).attr("fill", "#9a9a9a");
  if (icon === "bars") [0, 1, 2, 3].forEach(b => svg.append("rect").attr("x", 43.5 + b * 2.4).attr("y", cy - [2, 4, 1, 3][b])
    .attr("width", 1.7).attr("height", 5 + [2, 4, 1, 3][b]).attr("fill", "#555"));
});
svg.append("path").attr("d", "M43,103 L46,96 L48.5,100 L50.5,97 L53,103 Z").attr("fill", "#4e6b30").attr("stroke", "#222").attr("stroke-width", 0.5);
svg.append("text").attr("class", "mono").attr("x", 55).attr("y", 102.5).attr("fill", "#111").text("MFI(14) 38.29");

svg.append("line").attr("x1", 42).attr("x2", 51).attr("y1", 281.5).attr("y2", 281.5).attr("stroke", "#000").attr("stroke-width", 2);
const stoT = svg.append("text").attr("class", "mono").attr("x", 55).attr("y", 285).attr("fill", "#111");
stoT.append("tspan").text("Slow STO %K(60) %D(3) 44.81, ");
stoT.append("tspan").attr("fill", "#f01010").text("47.37");

svg.append("line").attr("x1", 42).attr("x2", 51).attr("y1", 1000.5).attr("y2", 1000.5).attr("stroke", "#000").attr("stroke-width", 2);
const mT = svg.append("text").attr("class", "mono").attr("x", 55).attr("y", 1004).attr("fill", "#111");
mT.append("tspan").text("MACD(12,26,9) -0.103, ");
mT.append("tspan").attr("fill", "#f01010").text("-0.087");
mT.append("tspan").text(", ");
mT.append("tspan").attr("fill", "#3a8fc4").text("-0.016");

// watermark
svg.append("text").attr("x", 1035).attr("y", 143).attr("font-family", "Open Sans, sans-serif")
  .attr("font-size", 31).attr("fill", "#6a8a45").attr("fill-opacity", 0.95)
  .attr("textLength", 238).attr("lengthAdjust", "spacingAndGlyphs").text("GoldPredict.com");

// ---------- wave annotations ----------
const blue = "#1a22ff";
const pt = ([i, p]) => [x(i), yP(p)];
waveLines.forEach(([a, b]) => {
  const [x1, y1] = pt(a), [x2, y2] = pt(b);
  svg.append("line").attr("x1", x1).attr("y1", y1).attr("x2", x2).attr("y2", y2)
    .attr("stroke", blue).attr("stroke-width", 2.4);
});
{
  const [x1, y1] = pt(waveArrow[0]), [x2, y2] = pt(waveArrow[1]);
  const len = Math.hypot(x2 - x1, y2 - y1), ux = (x2 - x1) / len, uy = (y2 - y1) / len;
  const bx = x2 - ux * 13, by = y2 - uy * 13;
  svg.append("line").attr("x1", x1).attr("y1", y1).attr("x2", bx).attr("y2", by)
    .attr("stroke", blue).attr("stroke-width", 2.4);
  svg.append("path").attr("d", `M${x2},${y2} L${bx - uy * 6},${by + ux * 6} L${bx + uy * 6},${by - ux * 6} Z`)
    .attr("fill", blue);
}
waveLabels.forEach(([t, i, p]) => svg.append("text").attr("x", x(i)).attr("y", yP(p)).attr("dy", "0.36em")
  .attr("text-anchor", "middle").attr("font-size", 16).attr("font-weight", "bold").attr("fill", blue).text(t));

// callout box
{
  const bx0 = x(noteBox[0]), bx1 = x(noteBox[1]), by0 = yP(noteBox[2]), by1 = yP(noteBox[3]);
  const [tx, ty] = pt(noteTip);
  svg.append("rect").attr("x", bx0 + 3).attr("y", by0 + 3).attr("width", bx1 - bx0).attr("height", by1 - by0).attr("fill", "#9c9c9c");
  svg.append("path").attr("d", `M${bx0 + 3},${by1 - 3} L${bx0 + 13},${by1 + 2} L${tx + 1},${ty + 1} Z`).attr("fill", "#a0a0a0");
  svg.append("rect").attr("x", bx0).attr("y", by0).attr("width", bx1 - bx0).attr("height", by1 - by0)
    .attr("fill", "#fff").attr("stroke", "#8a8a8a").attr("stroke-width", 1);
  svg.append("path").attr("d", `M${bx0 + 2},${by1 - 5} L${bx0 + 10},${by1 - 0.5} L${tx},${ty} Z`)
    .attr("fill", "#fff").attr("stroke", "#8a8a8a").attr("stroke-width", 0.8);
  svg.append("rect").attr("x", bx0 + 1).attr("y", by1 - 7).attr("width", 12).attr("height", 6.5).attr("fill", "#fff");
  noteLines.forEach((t, k) => svg.append("text").attr("x", bx0 + 4).attr("y", by0 + 18 + k * 20)
    .attr("font-size", 15).attr("font-weight", "bold").attr("fill", blue).text(t));
}
</script>
</body>
</html>
